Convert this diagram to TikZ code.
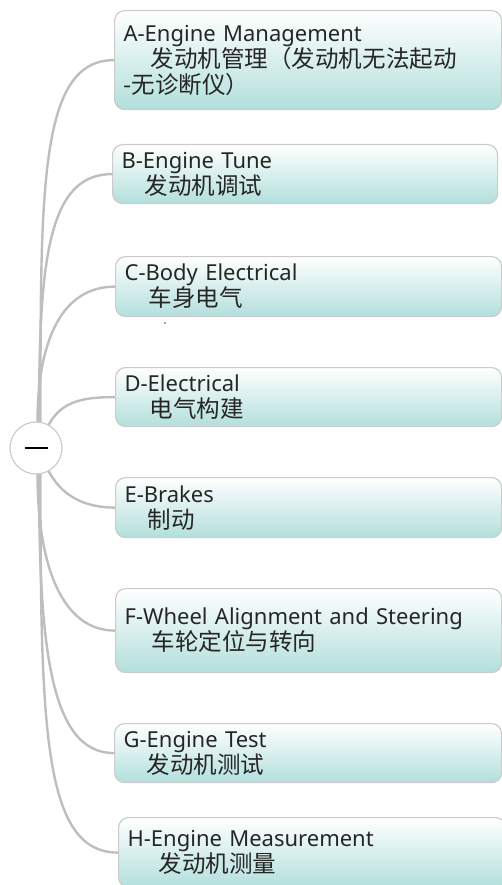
\documentclass[tikz,border=0pt]{standalone}
\usepackage{fontspec}
\setmainfont{Noto Sans}
\newfontfamily\cjk[Scale=1.07]{Noto Sans CJK SC}
\usetikzlibrary{calc}
\definecolor{linegray}{HTML}{BEBEBE}
\definecolor{boxedge}{HTML}{CCCCCC}
\definecolor{tealbot}{HTML}{B2DFDC}

\begin{document}
\begin{tikzpicture}[x=1pt, y=-1pt, font=\fontsize{22}{26}\selectfont,
    topic/.style={draw=boxedge, line width=1.2pt, rounded corners=10pt, top color=white, bottom color=tealbot,
        anchor=north west, inner xsep=9pt, inner ysep=0pt, text width=369pt, minimum width=387pt, align=left, text=black!85},
    branch/.style={draw=linegray, line width=2.4pt}]
    \useasboundingbox (0,0) rectangle (502,885);
    % topics
    \node[topic, minimum height=99pt] (mgmt) at (114,10) {A-Engine Management\\\hspace*{27pt}{\cjk 发动机管理（发动机无法起动}\\{\cjk -无诊断仪）}};
    \node[topic, minimum height=59pt, text width=367pt, minimum width=385pt] (tune) at (112,144) {B-Engine Tune\\\hspace*{23pt}{\cjk 发动机调试}};
    \node[topic, minimum height=60pt, text width=368pt, minimum width=386pt] (body) at (115,256) {C-Body Electrical\\\hspace*{24pt}{\cjk 车身电气}};
    \node[topic, minimum height=59pt, text width=368pt, minimum width=386pt] (elec) at (115,367) {D-Electrical\\\hspace*{25pt}{\cjk 电气构建}};
    \node[topic, minimum height=60pt, text width=368pt, minimum width=386pt] (brakes) at (115,477) {E-Brakes\\\hspace*{23pt}{\cjk 制动}};
    \node[topic, minimum height=84pt, text width=368pt, minimum width=386pt] (wheel) at (115,588) {F-Wheel Alignment and Steering\\\hspace*{27pt}{\cjk 车轮定位与转向}};
    \node[topic, minimum height=59pt] (test) at (114,723) {G-Engine Test\\\hspace*{23pt}{\cjk 发动机测试}};
    \node[topic, minimum height=70pt] (meas) at (118,817) {H-Engine Measurement\\\hspace*{31pt}{\cjk 发动机测量}};
    \fill[black!70] (165,323) circle (0.8);
    % branches
    \draw[branch] (40.5,423) .. controls +(0,-235) and +(-75,0) .. (mgmt.west);
    \draw[branch] (39,423) .. controls +(0,-160) and +(-65,0) .. (tune.west);
    \draw[branch] (37.5,423) .. controls +(0,-85) and +(-52,0) .. (body.west);
    \draw[branch] (48,426) .. controls +(13,-25) and +(-32,0) .. (elec.west);
    \draw[branch] (48,470) .. controls +(13,25) and +(-32,0) .. (brakes.west);
    \draw[branch] (37.5,473) .. controls +(0,95) and +(-52,0) .. (wheel.west);
    \draw[branch] (39,473) .. controls +(0,170) and +(-65,0) .. (test.west);
    \draw[branch] (40.5,473) .. controls +(0,255) and +(-75,0) .. (meas.west);
    % root
    \node[circle, draw=boxedge, fill=white, line width=1.2pt, minimum size=52pt] (root) at (36,448) {};
    \draw[line width=1.5pt] ([xshift=-11.5pt]root.center) -- ([xshift=11.5pt]root.center);
\end{tikzpicture}
\end{document}
